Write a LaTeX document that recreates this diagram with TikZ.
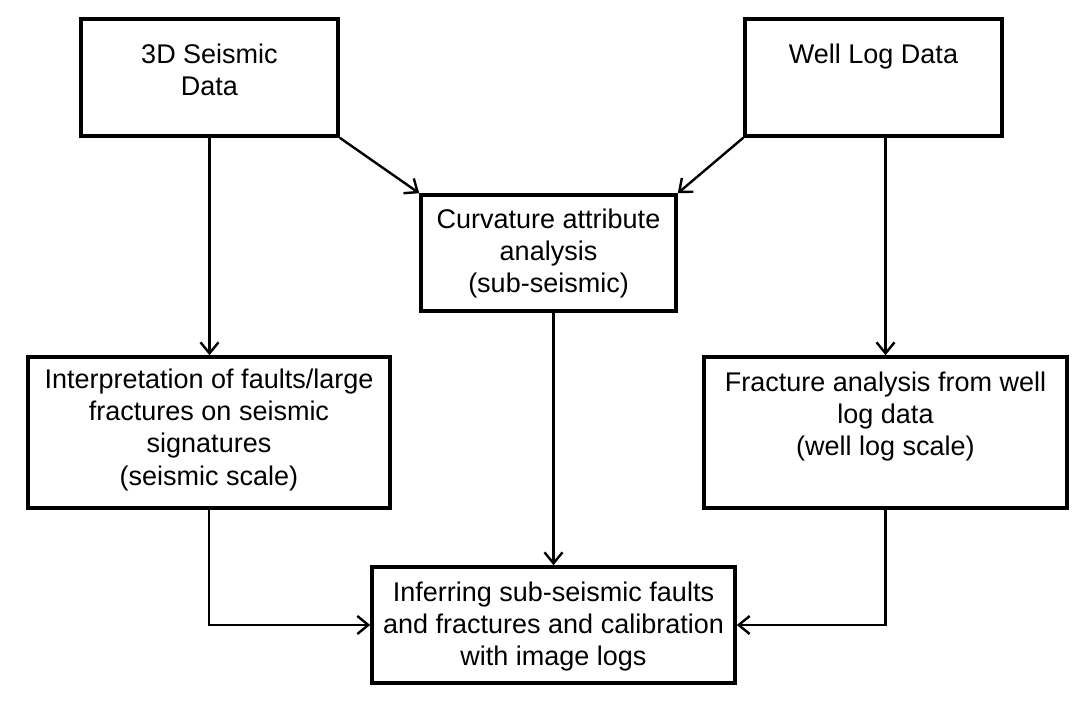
\documentclass[tikz,border=0pt]{standalone}
\usepackage{fontspec}
\setmainfont{Liberation Sans}
\usetikzlibrary{positioning,arrows.meta}
\tikzset{%
  box/.style  = {shape=rectangle, draw, line width=1.8pt, inner sep=0pt},%
  txt/.style  = {align=center, inner sep=0pt,%
                 font=\fontsize{13.5}{16.2}\selectfont},%
  flow/.style = {line width=1.2pt, -{Straight Barb[length=5.5pt,width=9pt]}}%
}

\begin{document}
\begin{tikzpicture}[x=0.5pt,y=-0.5pt]
	\useasboundingbox (0,0) rectangle (1090,700);
	% boxes
	\node[box, minimum width=128.5pt, minimum height=58.5pt] (seis)   at (209.5,77.5) {};
	\node[box, minimum width=128.5pt, minimum height=58.5pt] (well)   at (873.5,77.5) {};
	\node[box, minimum width=127.5pt, minimum height=58pt]   (curv)   at (548.5,253)  {};
	\node[box, minimum width=181pt,   minimum height=75.5pt] (interp) at (209,432.5)  {};
	\node[box, minimum width=181.5pt, minimum height=75.5pt] (frac)   at (885.5,432.5){};
	\node[box, minimum width=181.5pt, minimum height=58pt]   (infer)  at (553.5,625)  {};
	% texts
	\node[txt, below=13pt of seis.north]   (seistxt)   {3D Seismic\\Data};
	\node[txt, below=13pt of well.north]   (welltxt)   {Well Log Data};
	\node[txt, below=7.5pt of curv.north]  (curvtxt)   {Curvature attribute\\analysis\\(sub-seismic)};
	\node[txt, below=6.5pt of interp.north](interptxt) {Interpretation of faults/large\\fractures on seismic\\signatures\\(seismic scale)};
	\node[txt, below=8pt of frac.north]    (fractxt)   {Fracture analysis from well\\log data\\(well log scale)};
	\node[txt, below=8pt of infer.north]   (infertxt)  {Inferring sub-seismic faults\\and fractures and calibration\\with image logs};
	% connectors
	\draw[flow] (seis.south) -- (seis.south |- interp.north);
	\draw[flow] (seis.south east) -- (curv.north west);
	\draw[flow] (well.south west) -- (curv.north east);
	\draw[flow] (frac.north |- well.south) -- (frac.north);
	\draw[flow] (infer.north |- curv.south) -- (infer.north);
	\draw[flow] (interp.south) |- (infer.west);
	\draw[flow] (frac.south) |- (infer.east);
\end{tikzpicture}
\end{document}
